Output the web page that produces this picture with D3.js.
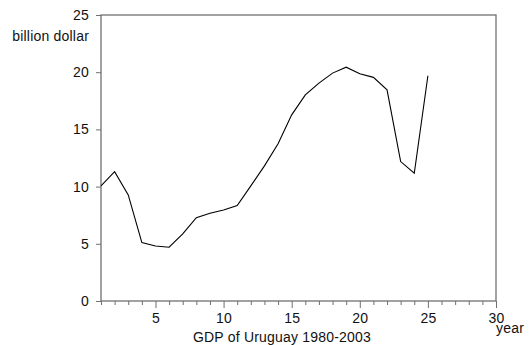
<!DOCTYPE html>
<html>
<head>
<meta charset="UTF-8">
<style>
  body { margin: 0; background: #fff; }
  text { font-family: "Liberation Sans", Arial, sans-serif; font-size: 14px; fill: #111; letter-spacing: 0.2px; }
</style>
</head>
<body>
<svg width="529" height="345"></svg>
<script src="https://cdnjs.cloudflare.com/ajax/libs/d3/7.8.5/d3.min.js"></script>
<script>
// observation number (1 = 1980)
const years = d3.range(1, 26);
// GDP, billion dollar
const gdp = [10.06, 11.31, 9.27, 5.10, 4.81, 4.70, 5.86, 7.29, 7.67, 7.96,
             8.34, 10.06, 11.81, 13.74, 16.27, 18.02, 19.04, 19.92, 20.44, 19.86,
             19.55, 18.46, 12.19, 11.17, 19.69];
const yTicks = [0, 5, 10, 15, 20, 25];
const xMajor = [5, 10, 15, 20, 25, 30];

const svg = d3.select("svg");
const plotL = 101, plotR = 496, plotT = 15, plotB = 301;

const x = d3.scaleLinear().domain([1, 30]).range([plotL, plotR]);
const y = d3.scaleLinear().domain([0, 25]).range([plotB, plotT]);

// frame
svg.append("rect")
    .attr("x", plotL).attr("y", plotT)
    .attr("width", plotR - plotL).attr("height", plotB - plotT)
    .attr("fill", "none").attr("stroke", "#707070").attr("stroke-width", 1.3);

// y axis
const yAxis = svg.append("g")
    .attr("transform", `translate(${plotL},0)`)
    .call(d3.axisLeft(y).tickValues(yTicks).tickSize(5).tickPadding(7));
yAxis.select(".domain").remove();
yAxis.selectAll("line").attr("stroke", "#707070");
yAxis.selectAll("text").attr("font-size", 14).attr("font-family", null).attr("fill", "#111");

// x axis: minor ticks every year, labels every 5
const xAxis = svg.append("g")
    .attr("transform", `translate(0,${plotB})`)
    .call(d3.axisBottom(x).tickValues(d3.range(1, 31)).tickSize(4)
        .tickFormat(d => xMajor.includes(d) ? d : ""));
xAxis.select(".domain").remove();
xAxis.selectAll("line").attr("stroke", "#707070")
    .attr("y2", d => xMajor.includes(d) ? 7 : 4);
xAxis.selectAll("text").attr("font-size", 14).attr("font-family", null)
    .attr("fill", "#111").attr("y", 12.5);

// the series
const line = d3.line()
    .x((d, i) => x(years[i]))
    .y(d => y(d));
svg.append("path")
    .datum(gdp)
    .attr("d", line)
    .attr("fill", "none")
    .attr("stroke", "#000")
    .attr("stroke-width", 1.1);

// labels
svg.append("text")
    .attr("x", 89).attr("y", 41)
    .attr("text-anchor", "end")
    .text("billion dollar");

svg.append("text")
    .attr("x", 496).attr("y", 333)
    .text("year");

svg.append("text")
    .attr("x", 282).attr("y", 341.5)
    .attr("text-anchor", "middle")
    .text("GDP of Uruguay 1980-2003");
</script>
</body>
</html>
